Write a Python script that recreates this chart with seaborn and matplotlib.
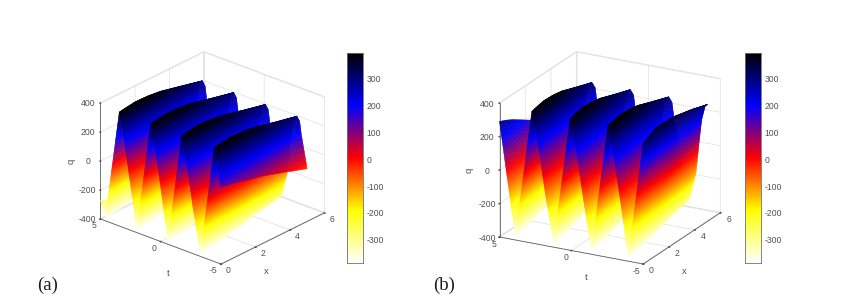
import numpy as np
import matplotlib
matplotlib.use('Agg')
import matplotlib.pyplot as plt
import seaborn as sns
from mpl_toolkits.mplot3d import proj3d

x_rows = [0, 0.5, 1, 1.75, 2.5, 3.75, 5]

# one ridge read per x row: t offsets before the crest (valley first), crest, t offsets after it
rise_back = [[1.15, 0.85, 0.6, 0.3, 0.12],
             [1.165, 0.865, 0.61, 0.31, 0.12],
             [1.18, 0.88, 0.62, 0.32, 0.12],
             [1.2, 0.84, 0.585, 0.335, 0.12],
             [1.22, 0.8, 0.55, 0.35, 0.12],
             [1.26, 0.8, 0.58, 0.4, 0.16],
             [1.29, 0.82, 0.58, 0.42, 0.18]]
rise_q = [[-378, -179, -13, 187, 306],
          [-374, -185, -19, 188, 325],
          [-370, -190, -25, 190, 345],
          [-352, -170, -18, 175, 335],
          [-335, -150, -10, 160, 325],
          [-310, -135, 35, 175, 300],
          [-290, -123, 79, 201, 285]]
crest_q = [386, 393, 398, 392, 378, 338, 300]
fall_ahead = [[0.2, 0.45, 0.95],
              [0.2, 0.425, 0.95],
              [0.2, 0.4, 0.95],
              [0.21, 0.4, 0.95],
              [0.22, 0.4, 0.95],
              [0.22, 0.37, 0.92],
              [0.23, 0.35, 0.9]]
fall_q = [[320, 190, -95],
          [325, 207, -90],
          [330, 225, -85],
          [325, 220, -80],
          [320, 215, -75],
          [300, 205, -65],
          [271, 193, -60]]

# crest positions in t for each x row
crests_a = [[3.44, 0.83, -1.75, -4.45],
            [3.47, 0.86, -1.73, -4.42],
            [3.5, 0.89, -1.71, -4.39],
            [3.545, 0.93, -1.68, -4.35],
            [3.59, 0.97, -1.65, -4.31],
            [3.67, 1.04, -1.6, -4.24],
            [3.7, 1.1, -1.54, -4.15]]
crests_b = [[2.75, 0.08, -2.55, -5.1],
            [2.78, 0.11, -2.52, -5.09],
            [2.81, 0.14, -2.49, -5.08],
            [2.855, 0.185, -2.445, -5.065],
            [2.9, 0.23, -2.4, -5.05],
            [2.97, 0.3, -2.35, -5.03],
            [3.04, 0.37, -2.3, -5.02]]
q_at_t5_a = [-271, -295, -310, -318, -320, -305, -288]
q_at_t5_b = [290, 272, 250, 210, 170, 100, 30]

x_ticks = [0, 2, 4, 6]
t_ticks = [-5, 0, 5]
q_ticks = [-400, -200, 0, 200, 400]
cbar_ticks = [-300, -200, -100, 0, 100, 200, 300]
q_min, q_max = -386, 394

sns.set_theme(style='white')
plt.rcParams['font.family'] = ['Liberation Sans', 'DejaVu Sans']
plt.rcParams['axes.unicode_minus'] = False
plt.rcParams['grid.color'] = '#e4e4e4'
plt.rcParams['grid.linewidth'] = 0.6

cmap = sns.blend_palette(['#ffffff', '#ffff00', '#ff0000', '#0000ff', '#000000'], as_cmap=True)
text_color = '#505050'
W, H = 863, 300


def build_row(i, crests, q_start):
    ts = [5.0]
    qs = [q_start]
    for c in crests:
        ts += [c + b for b in rise_back[i]] + [c] + [c - f for f in fall_ahead[i]]
        qs += rise_q[i] + [crest_q[i]] + fall_q[i]
    ts = np.array(ts)
    qs = np.array(qs, dtype=float)
    clipped = np.clip(ts, -5, 5)
    return clipped, np.interp(clipped, ts[::-1], qs[::-1])


def build_mesh(crests, q_starts):
    rows = [build_row(i, crests[i], q_starts[i]) for i in range(len(x_rows))]
    knots = np.arange(len(rows[0][0]))
    # mesh steps between knots follow the q change, so colour bands stay thin
    q_change = np.max([np.abs(np.diff(r[1])) for r in rows], axis=0)
    steps = np.maximum(np.ceil(q_change / 10).astype(int), 1)
    u = np.concatenate([np.linspace(k, k + 1, s, endpoint=False) for k, s in zip(knots, steps)] + [[knots[-1]]])
    t_fine = np.array([np.interp(u, knots, r[0]) for r in rows])
    q_fine = np.array([np.interp(u, knots, r[1]) for r in rows])
    x_fine = np.linspace(0, 5, 41)
    T = np.array([np.interp(x_fine, x_rows, t_fine[:, j]) for j in range(len(u))])
    Q = np.array([np.interp(x_fine, x_rows, q_fine[:, j]) for j in range(len(u))])
    X = np.tile(x_fine, (len(u), 1))
    return X, T, Q


def corner_px(ax, x, t, q):
    ax.apply_aspect()
    px, py, _ = proj3d.proj_transform(x, t, q, ax.get_proj())
    return ax.transData.transform((px, py))


def surface_panel(fig, crests, q_starts, azim, elev, aspect, corner, q_len):
    size = 330
    ax = fig.add_axes([(corner[0] - 50) / W, 0, size / W, size / H], projection='3d')
    ax.set_proj_type('ortho')
    ax.view_init(elev=elev, azim=azim)
    ax.set_xlim(0, 6, view_margin=0)
    ax.set_ylim(-5, 5, view_margin=0)
    ax.set_zlim(-400, 400, view_margin=0)
    ax.set_box_aspect(aspect, zoom=1)

    # scale and shift the box so the t=5, x=0 edge lands where it is in the figure
    a = corner_px(ax, 0, 5, -400)
    b = corner_px(ax, 0, 5, 400)
    zoom = q_len / np.hypot(*(b - a))
    ax.set_box_aspect(aspect, zoom=zoom)
    a = corner_px(ax, 0, 5, -400)
    pos = ax.get_position(original=True)
    dx = (corner[0] - a[0]) / W
    dy = ((H - corner[1]) - a[1]) / H
    ax.set_position([pos.x0 + dx, pos.y0 + dy, pos.width, pos.height])

    X, T, Q = build_mesh(crests, q_starts)
    surf = ax.plot_surface(X, T, Q, rstride=1, cstride=1, cmap=cmap, vmin=q_min, vmax=q_max,
                           linewidth=0.3, antialiased=True)
    surf.set_edgecolor('face')

    ax.set_xticks(x_ticks)
    ax.set_yticks(t_ticks)
    ax.set_zticks(q_ticks)
    ax.tick_params(labelsize=6.2, colors=text_color, pad=-3)
    ax.tick_params(axis='z', pad=-1)
    plt.setp(ax.get_xticklabels(), ha='left', va='center')
    plt.setp(ax.get_yticklabels(), ha='right', va='center')
    plt.setp(ax.get_zticklabels(), va='center')
    for axis in [ax.xaxis, ax.yaxis, ax.zaxis]:
        axis.set_pane_color((1, 1, 1, 1))
        axis.pane.set_edgecolor('#e4e4e4')
        axis.line.set_color('#606060')
        axis.line.set_linewidth(0.6)
        axis._axinfo['tick']['inward_factor'] = 0.05
        axis._axinfo['tick']['outward_factor'] = 0.0
    return ax


def colorbar_panel(fig, left, right, top, bottom):
    ax = fig.add_axes([left / W, (H - bottom) / H, (right - left) / W, (bottom - top) / H])
    n = 256
    gradient = np.linspace(q_max, q_min, n).reshape(-1, 1)
    sns.heatmap(gradient, ax=ax, cmap=cmap, vmin=q_min, vmax=q_max, cbar=False,
                xticklabels=False, yticklabels=False)
    ax.set_yticks([(q_max - v) / (q_max - q_min) * n for v in cbar_ticks])
    ax.set_yticklabels(cbar_ticks, rotation=0)
    ax.yaxis.tick_right()
    ax.tick_params(axis='y', right=True, direction='in', length=1.5, width=0.4,
                   color='#606060', labelsize=6.2, labelcolor=text_color, pad=2.5)
    for s in ax.spines.values():
        s.set_visible(True)
        s.set_color('#707070')
        s.set_linewidth(0.6)
    return ax


def put_label(fig, x, y, s, rotation=0):
    fig.text(x / W, 1 - y / H, s, fontsize=6.8, color=text_color, rotation=rotation,
             ha='center', va='center')


fig = plt.figure(figsize=(W / 100, H / 100), dpi=100)

surface_panel(fig, crests_a, q_at_t5_a, azim=-139, elev=25.5, aspect=(157, 159, 128),
              corner=(100.5, 219), q_len=116)
surface_panel(fig, crests_b, q_at_t5_b, azim=-152, elev=20.7, aspect=(164, 162.5, 143),
              corner=(499.5, 237), q_len=134)

colorbar_panel(fig, 347, 363, 53, 263)
colorbar_panel(fig, 745, 761, 53, 263)

put_label(fig, 266, 271, 'x')
put_label(fig, 168, 274, 't')
put_label(fig, 71, 161, 'q', rotation=90)
put_label(fig, 684, 272, 'x')
put_label(fig, 586, 278, 't')
put_label(fig, 469, 170, 'q', rotation=90)

fig.text(37 / W, 1 - 285 / H, '(a)', family='Liberation Serif', fontsize=13.5,
         color='#1a1a1a', va='center', ha='left')
fig.text(433 / W, 1 - 285 / H, '(b)', family='Liberation Serif', fontsize=13.5,
         color='#1a1a1a', va='center', ha='left')

fig.savefig('out.png', dpi=100)
